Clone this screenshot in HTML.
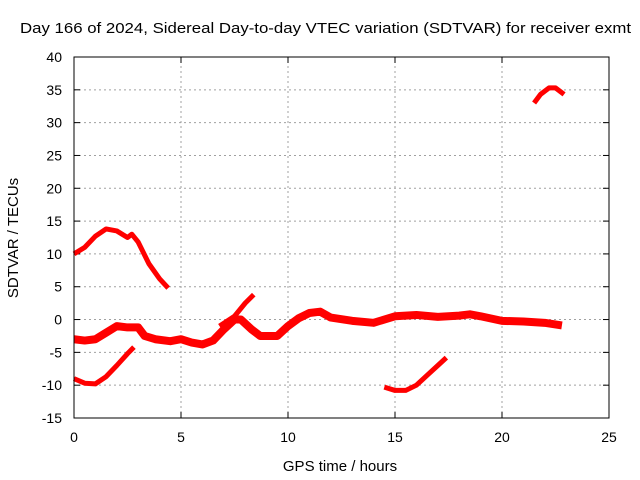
<!DOCTYPE html>
<html><head><meta charset="utf-8"><style>
body{margin:0;background:#fff}
svg{display:block;font-family:"Liberation Sans",sans-serif}
</style></head><body>
<svg id="c" width="640" height="480" viewBox="0 0 640 480">
<text x="20" y="33" textLength="611" lengthAdjust="spacingAndGlyphs" font-size="15" fill="#000">Day 166 of 2024, Sidereal Day-to-day VTEC variation (SDTVAR) for receiver exmt</text>
<text x="340" y="471" text-anchor="middle" font-size="15">GPS time / hours</text>
<text x="18" y="238" text-anchor="middle" font-size="15" transform="rotate(-90 18 238)">SDTVAR / TECUs</text>
<g id="grid"></g>
<g id="ticks"></g>
<g id="series"></g>
<rect x="74" y="57" width="535" height="361" fill="none" stroke="#000" stroke-width="1"/>
</svg>
<script>
const xTicks=[0,5,10,15,20,25];
const yTicks=[-15,-10,-5,0,5,10,15,20,25,30,35,40];
const seriesA=[[0,10],[0.5,11],[1,12.7],[1.5,13.8],[2,13.5],[2.5,12.5],[2.7,13],[3,11.8],[3.5,8.5],[4,6.2],[4.4,4.8]];
const seriesB=[[0,-3],[0.5,-3.2],[1,-3],[1.5,-2],[2,-1],[2.5,-1.2],[3,-1.2],[3.3,-2.5],[3.8,-3],[4.5,-3.3],[5,-3],[5.5,-3.5],[6,-3.8],[6.5,-3.2],[7,-1.5],[7.5,0],[7.8,0],[8.3,-1.5],[8.7,-2.5],[9.5,-2.5],[10,-1],[10.5,0.2],[11,1],[11.5,1.2],[12,0.3],[13,-0.2],[14,-0.5],[14.5,0],[15,0.5],[16,0.7],[17,0.4],[18,0.6],[18.5,0.8],[19,0.5],[20,-0.2],[21,-0.3],[22,-0.5],[22.8,-0.9]];
const seriesC=[[6.8,-1],[7.5,0.5],[8,2.5],[8.4,3.8]];
const seriesD=[[0,-9],[0.5,-9.7],[1,-9.8],[1.5,-8.7],[2,-7],[2.5,-5.2],[2.8,-4.2]];
const seriesE=[[14.5,-10.3],[15,-10.8],[15.5,-10.8],[16,-10],[16.5,-8.5],[17,-7],[17.4,-5.8]];
const seriesF=[[21.5,33],[21.8,34.3],[22.2,35.3],[22.5,35.3],[22.9,34.3]];
const NS='http://www.w3.org/2000/svg';
const X0=74,X1=609,Y0=418,Y1=57;
const xs=v=>X0+(v-0)/25*(X1-X0);
const ys=v=>Y0-(v+15)/55*(Y0-Y1);
const grid=document.getElementById('grid'),ticks=document.getElementById('ticks'),ser=document.getElementById('series');
function mk(t,a,p){const e=document.createElementNS(NS,t);for(const k in a)e.setAttribute(k,a[k]);p.appendChild(e);return e;}
xTicks.forEach(v=>{const x=xs(v);
 if(v>0&&v<25){const l=mk('line',{x1:x,x2:x,y1:Y0,y2:Y1,stroke:'#a0a0a0','stroke-dasharray':'2,3'},grid);}
 mk('line',{x1:x,x2:x,y1:Y0,y2:Y0-6,stroke:'#000'},ticks);mk('line',{x1:x,x2:x,y1:Y1,y2:Y1+6,stroke:'#000'},ticks);
 const t=mk('text',{x:x,y:Y0+24,'text-anchor':'middle','font-size':'14'},ticks);t.textContent=v;
 });
yTicks.forEach(v=>{const y=ys(v);
 if(v>-15&&v<40){const l=mk('line',{x1:X0,x2:X1,y1:y,y2:y,stroke:'#a0a0a0','stroke-dasharray':'2,3'},grid);}
 mk('line',{x1:X0,x2:X0+6,y1:y,y2:y,stroke:'#000'},ticks);mk('line',{x1:X1,x2:X1-6,y1:y,y2:y,stroke:'#000'},ticks);
 const t=mk('text',{x:X0-12,y:y+5,'text-anchor':'end','font-size':'14'},ticks);t.textContent=v;
 });
[[seriesA,'series-a',5],[seriesB,'series-b',8],[seriesC,'series-c',5],[seriesD,'series-d',5],[seriesE,'series-e',5],[seriesF,'series-f',5]].forEach(([d,n,w])=>{
 const p=mk('polyline',{points:d.map(q=>xs(q[0])+','+ys(q[1])).join(' '),fill:'none',stroke:'#ff0000','stroke-width':w,'stroke-linejoin':'round','stroke-linecap':'butt'},ser);
 
 });
</script>
</body></html>
